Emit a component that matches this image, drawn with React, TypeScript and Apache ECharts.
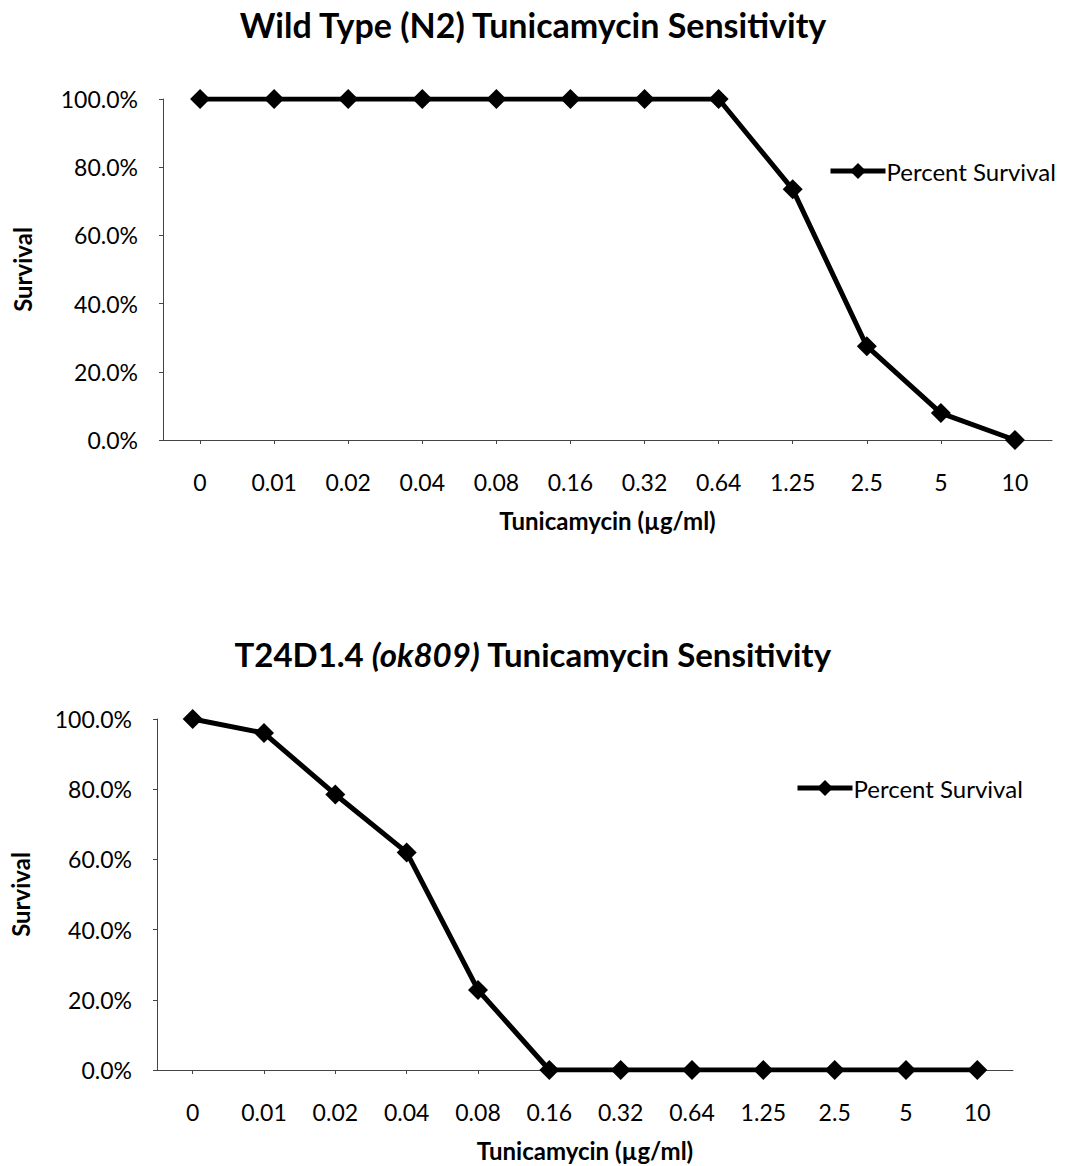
import React, { useEffect, useRef } from "react";
import * as echarts from "echarts";

const categories = ["0", "0.01", "0.02", "0.04", "0.08", "0.16", "0.32", "0.64", "1.25", "2.5", "5", "10"];
const wildTypeSurvival = [100, 100, 100, 100, 100, 100, 100, 100, 73.5, 27.5, 7.9, 0];
const mutantSurvival = [100, 96, 78.5, 62, 22.8, 0, 0, 0, 0, 0, 0, 0];
const seriesName = "Percent Survival";
const topTitle = "Wild Type (N2) Tunicamycin Sensitivity";
const xName = "Tunicamycin (µg/ml)";
const yName = "Survival";

const FONT = "Lato";

export default function App() {
  const ref = useRef<HTMLDivElement>(null);
  useEffect(() => {
    if (!ref.current) return;
    const chart = echarts.init(ref.current, null, { renderer: "svg" });
    const axisLineStyle = { color: "#444", width: 1 };
    const xAxisBase = (gridIndex: number, nameGap: number) => ({
      type: "category",
      gridIndex,
      data: categories,
      boundaryGap: true,
      name: xName,
      nameLocation: "middle",
      nameGap,
      nameTextStyle: { fontFamily: FONT, fontWeight: "bold", fontSize: 24, color: "#000" },
      axisLine: { show: true, lineStyle: axisLineStyle },
      axisTick: { show: true, alignWithLabel: true, length: 4, lineStyle: axisLineStyle },
      axisLabel: { fontFamily: FONT, fontSize: 23, color: "#000", margin: 30, interval: 0 },
      splitLine: { show: false },
    });
    const yAxisBase = (gridIndex: number, nameGap: number) => ({
      type: "value",
      gridIndex,
      min: 0,
      max: 100,
      interval: 20,
      name: yName,
      nameLocation: "middle",
      nameGap,
      nameRotate: 90,
      nameTextStyle: { fontFamily: FONT, fontWeight: "bold", fontSize: 24, color: "#000" },
      axisLine: { show: true, lineStyle: axisLineStyle },
      axisTick: { show: true, length: 4, lineStyle: axisLineStyle },
      axisLabel: {
        fontFamily: FONT,
        fontSize: 23,
        color: "#000",
        margin: 25,
        formatter: (v: number) => v.toFixed(1) + "%",
      },
      splitLine: { show: false },
    });
    const seriesBase = (idx: number, data: number[]) => ({
      type: "line",
      name: seriesName,
      xAxisIndex: idx,
      yAxisIndex: idx,
      data,
      symbol: "diamond",
      symbolSize: 20,
      lineStyle: { color: "#000", width: 5 },
      itemStyle: { color: "#000" },
    });
    const legendBase = (left: number, top: number) => ({
      data: [seriesName],
      left,
      top,
      padding: 0,
      itemWidth: 55,
      itemHeight: 20,
      itemGap: 4,
      lineStyle: { width: 5, color: "#000" },
      textStyle: { fontFamily: FONT, fontSize: 24, color: "#000", padding: [0, 0, 0, -4] },
    });
    chart.setOption({
      animation: false,
      backgroundColor: "#fff",
      title: [
        {
          text: topTitle,
          left: "center",
          top: 2,
          textStyle: { fontFamily: FONT, fontWeight: "bold", fontSize: 34, color: "#000" },
        },
        {
          text: "T24D1.4 {i|(ok809)} Tunicamycin Sensitivity",
          left: "center",
          top: 632,
          textStyle: {
            fontFamily: FONT,
            fontWeight: "bold",
            fontSize: 33,
            color: "#000",
            rich: {
              i: { fontFamily: FONT, fontWeight: "bold", fontStyle: "italic", fontSize: 33, color: "#000" },
            },
          },
        },
      ],
      legend: [legendBase(828, 159), legendBase(795, 776)],
      grid: [
        { left: 163, right: 14, top: 99, height: 341, containLabel: false, outerBoundsMode: "none" },
        { left: 157, right: 53, top: 719, height: 351, containLabel: false, outerBoundsMode: "none" },
      ],
      xAxis: [xAxisBase(0, 68), xAxisBase(1, 68)],
      yAxis: [yAxisBase(0, 129), yAxisBase(1, 125)],
      series: [seriesBase(0, wildTypeSurvival), seriesBase(1, mutantSurvival)],
    });
    return () => chart.dispose();
  }, []);
  return (
    <div
      ref={ref}
      style={{ position: "absolute", left: 0, top: 0, width: 1066, height: 1166 }}
    />
  );
}
